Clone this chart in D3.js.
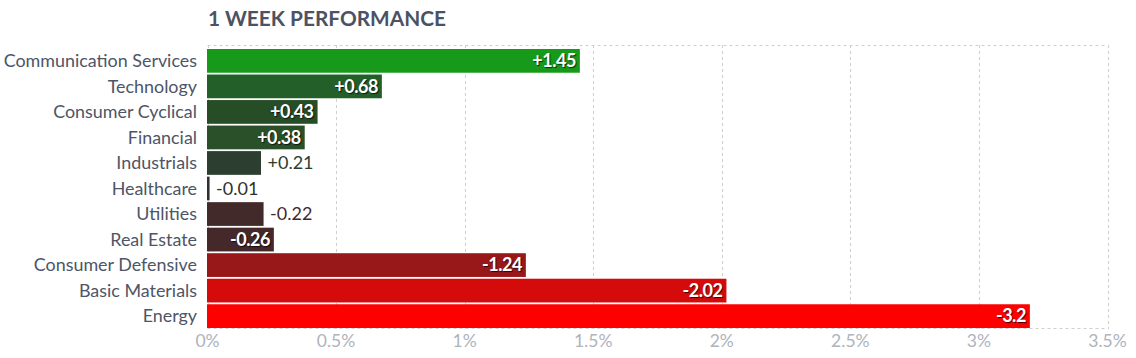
<!DOCTYPE html>
<html><head><meta charset="utf-8">
<script src="https://cdn.jsdelivr.net/npm/d3@7"></script>
<style>
body{margin:0;background:#fff;}
svg{display:block;font-family:Lato,"Open Sans",sans-serif;}
</style></head>
<body><svg id="c" width="1136" height="358"></svg>
<script>
const categories = ["Communication Services","Technology","Consumer Cyclical","Financial","Industrials","Healthcare","Utilities","Real Estate","Consumer Defensive","Basic Materials","Energy"];
const values = [1.45,0.68,0.43,0.38,0.21,-0.01,-0.22,-0.26,-1.24,-2.02,-3.2];
const colors = ["#179a1a","#235f28","#264d26","#2a5029","#2c3e30","#303030","#432a2a","#452829","#98181a","#d50b0b","#fe0000"];
const ticks = [0,0.5,1,1.5,2,2.5,3,3.5];
const tickLabels = ["0%","0.5%","1%","1.5%","2%","2.5%","3%","3.5%"];
const title = "1 WEEK PERFORMANCE";

const svg = d3.select("#c");
const x = d3.scaleLinear().domain([0,3.5]).range([207.5,1107.5]);
const y = d3.scaleBand().domain(categories).range([49,328]).paddingInner(0.07).paddingOuter(0);

svg.append("text").attr("x",208).attr("y",25.5).attr("font-size",20.8).attr("font-weight",700)
  .attr("fill","#4b5263").text(title);

const grid = svg.append("g").attr("stroke","#cfcfcf").attr("stroke-dasharray","3,3").attr("stroke-width",1);
ticks.forEach(t=>{
  grid.append("line").attr("x1",Math.round(x(t))+0.5).attr("x2",Math.round(x(t))+0.5).attr("y1",45).attr("y2",329);
});
grid.append("line").attr("x1",x(0)).attr("x2",x(3.5)).attr("y1",45.5).attr("y2",45.5);
grid.append("line").attr("x1",x(0)).attr("x2",x(3.5)).attr("y1",328.5).attr("y2",328.5);

const data = categories.map((c,i)=>({c,v:values[i],col:colors[i]}));
const fmt = v => (v>0?"+":"")+v.toString();

svg.append("g").selectAll("rect").data(data).join("rect")
  .attr("x",x(0)-0.5).attr("y",d=>y(d.c)).attr("height",y.bandwidth())
  .attr("width",d=>x(Math.abs(d.v))-x(0)).attr("fill",d=>d.col);

svg.append("g").selectAll("text").data(data).join("text")
  .attr("x",197).attr("y",d=>y(d.c)+y.bandwidth()/2).attr("dy","0.35em")
  .attr("text-anchor","end").attr("font-size",17.9).attr("fill","#4e5566").text(d=>d.c);

const lbl = svg.append("g");
data.forEach(d=>{
  const w = x(Math.abs(d.v))-x(0);
  const inside = w > 60;
  const t = lbl.append("text").attr("y",y(d.c)+y.bandwidth()/2).attr("dy","0.35em")
    .attr("font-size",18).text(fmt(d.v));
  if(inside){
    t.attr("x",x(0)+w-4.5).attr("text-anchor","end").attr("fill","#fff").attr("font-weight",700)
     .attr("letter-spacing",-0.5)
     .style("text-shadow","1px 1px 1px rgba(0,0,0,0.7)");
  } else {
    t.attr("x",x(0)+w+6).attr("text-anchor","start").attr("fill",d.col);
  }
});

svg.append("g").selectAll("text").data(ticks).join("text")
  .attr("x",t=>x(t)).attr("y",347).attr("text-anchor","middle").attr("font-size",17.5)
  .attr("fill","#aeb3bd").text((t,i)=>tickLabels[i]);
</script></body></html>
